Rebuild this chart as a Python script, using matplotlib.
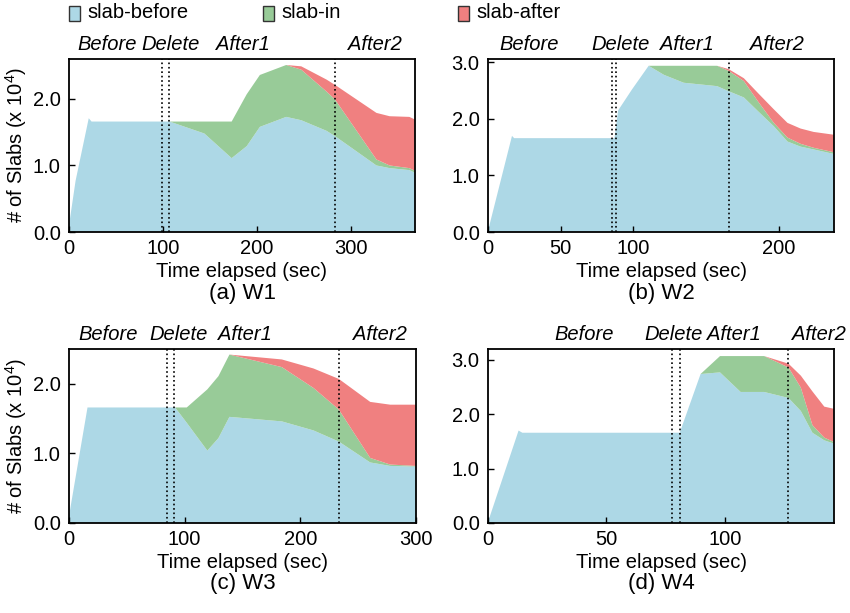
import numpy as np
import matplotlib
matplotlib.use("Agg")
import matplotlib.pyplot as plt
import matplotlib.transforms as mtransforms
from matplotlib.patches import Rectangle

plt.rcParams['font.family'] = ['Liberation Sans', 'DejaVu Sans']
plt.rcParams['mathtext.default'] = 'regular'

# slab counts in units of 10^4
# (a) W1
t_a = [0, 7, 21, 24, 99, 107, 144, 173, 189, 203, 231, 247, 274, 283, 327, 341, 362, 368]
before_a = [0.10, 0.77, 1.71, 1.66, 1.66, 1.66, 1.48, 1.11, 1.29, 1.58, 1.73, 1.68, 1.52, 1.44, 1.00, 0.96, 0.93, 0.89]
in_a = [0, 0, 0, 0, 0, 0, 0.18, 0.55, 0.78, 0.78, 0.78, 0.76, 0.59, 0.55, 0.09, 0.04, 0.03, 0.03]
after_a = [0, 0, 0, 0, 0, 0, 0, 0, 0, 0, 0, 0.05, 0.18, 0.22, 0.70, 0.74, 0.77, 0.77]

# (b) W2
t_b = [0, 16.5, 18, 87, 89.5, 99, 110.5, 121, 134.6, 157.6, 165.6, 176, 186, 196.6, 206, 215, 224, 238]
before_b = [0.02, 1.70, 1.66, 1.66, 2.15, 2.52, 2.94, 2.78, 2.64, 2.58, 2.49, 2.38, 2.13, 1.87, 1.60, 1.51, 1.46, 1.38]
in_b = [0, 0, 0, 0, 0, 0, 0, 0.16, 0.30, 0.36, 0.36, 0.29, 0.17, 0.06, 0.07, 0.05, 0.03, 0.03]
after_b = [0, 0, 0, 0, 0, 0, 0, 0, 0, 0, 0.03, 0.05, 0.15, 0.24, 0.26, 0.27, 0.28, 0.31]

# (c) W3
t_c = [0, 16, 85, 91.7, 101.8, 119.6, 129.2, 138.7, 184, 211.4, 233.3, 260.4, 277.7, 300]
before_c = [0.10, 1.66, 1.66, 1.66, 1.44, 1.04, 1.22, 1.525, 1.46, 1.33, 1.17, 0.87, 0.82, 0.81]
in_c = [0, 0, 0, 0, 0.22, 0.88, 0.89, 0.895, 0.78, 0.61, 0.46, 0.065, 0.02, 0.01]
after_c = [0, 0, 0, 0, 0, 0, 0, 0, 0.11, 0.28, 0.44, 0.805, 0.86, 0.88]

# (d) W4
t_d = [0, 12.9, 14.5, 80.9, 89.7, 97.9, 106.6, 116.5, 126.8, 132, 136.9, 141.9, 146]
before_d = [0.02, 1.70, 1.66, 1.66, 2.74, 2.77, 2.41, 2.41, 2.30, 2.06, 1.66, 1.52, 1.46]
in_d = [0, 0, 0, 0, 0, 0.30, 0.66, 0.66, 0.56, 0.43, 0.14, 0.05, 0.03]
after_d = [0, 0, 0, 0, 0, 0, 0, 0, 0.07, 0.22, 0.62, 0.57, 0.61]

# phase boundaries (sec)
marks_a = [98.8, 106.6, 282.7]
marks_b = [85.3, 88.1, 165.6]
marks_c = [84.5, 90.8, 233.3]
marks_d = [77.8, 80.9, 126.8]

phase_names = ["Before", "Delete", "After1", "After2"]
phase_pos_a = [41, 108, 185, 325]
phase_pos_b = [28, 91.5, 137, 199]
phase_pos_c = [34, 95, 152, 269]
phase_pos_d = [40.4, 78.5, 103.8, 139.7]

series_names = ["slab-before", "slab-in", "slab-after"]
colors = ["#add8e6", "#98cb98", "#f08080"]

panels = [
    ("(a) W1", t_a, before_a, in_a, after_a, marks_a, phase_pos_a, 368, 2.6, [0, 100, 200, 300], [0, 1, 2]),
    ("(b) W2", t_b, before_b, in_b, after_b, marks_b, phase_pos_b, 238, 3.06, [0, 50, 100, 200], [0, 1, 2, 3]),
    ("(c) W3", t_c, before_c, in_c, after_c, marks_c, phase_pos_c, 300, 2.5, [0, 100, 200, 300], [0, 1, 2]),
    ("(d) W4", t_d, before_d, in_d, after_d, marks_d, phase_pos_d, 146, 3.2, [0, 50, 100], [0, 1, 2, 3]),
]

W, H = 850, 613
fig = plt.figure(figsize=(8.5, 6.13), dpi=100)

# axes boxes in pixels: left, top, right, bottom
boxes = [(69, 59, 415, 232), (488, 59, 834, 232), (69, 349, 416, 523), (488, 349, 834, 523)]

for i, (cap, t, b, n, a, marks, ppos, xmax, ymax, xt, yt) in enumerate(panels):
    l, tp, r, bt = boxes[i]
    ax = fig.add_axes([l / W, 1 - bt / H, (r - l) / W, (bt - tp) / H])
    ax.stackplot(t, b, n, a, colors=colors, linewidth=0)
    for m in marks:
        ax.axvline(m, color="black", linestyle=":", linewidth=1.2)
    ax.set_xlim(0, xmax)
    ax.set_ylim(0, ymax)
    ax.set_xticks(xt)
    ax.set_yticks(yt)
    ax.set_yticklabels(["%.1f" % v for v in yt])
    ax.tick_params(direction="in", labelsize=14.5, length=4, width=1)
    ax.tick_params(axis="x", pad=5)
    ax.tick_params(axis="y", pad=6)
    for s in ax.spines.values():
        s.set_linewidth(1.3)
    ax.set_xlabel("Time elapsed (sec)", fontsize=14.5, labelpad=3)
    if i % 2 == 0:
        ax.set_ylabel("# of Slabs (x 10$^4$)", fontsize=14.5, labelpad=3)
    trans = mtransforms.blended_transform_factory(ax.transData, ax.transAxes)
    for name, x in zip(phase_names, ppos):
        ax.text(x, 1.085, name, transform=trans, ha="center", va="center",
                fontsize=14.5, style="italic")
    fig.text((l + r) / 2 / W, 1 - (bt + 61) / H, cap, ha="center", va="center", fontsize=16)

# legend drawn as boxes + text across the top
leg_x = [69, 263, 458]
for x, name, c in zip(leg_x, series_names, colors):
    fig.patches.append(Rectangle((x / W, 1 - 21 / H), 11 / W, 15 / H, transform=fig.transFigure,
                                 facecolor=c, edgecolor="#333333", linewidth=1))
    fig.text((x + 18) / W, 1 - 13 / H, name, ha="left", va="center", fontsize=14.5)

fig.savefig("out.png", dpi=100)
